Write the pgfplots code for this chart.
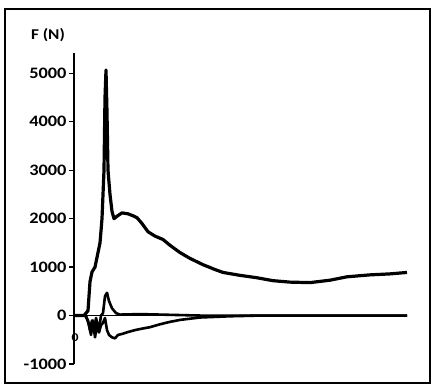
\documentclass[border=0pt]{standalone}
\usepackage{pgfplots}
\pgfplotsset{compat=1.18}
\usepackage{fontspec}
\setmainfont{Carlito}
\newfontfamily\widefont[FakeStretch=1.15]{Carlito}
\begin{document}
\begin{tikzpicture}[x=1bp,y=1bp]
\useasboundingbox (0,0) rectangle (432,385);
\fill[white] (0,0) rectangle (432,385);
\draw[line width=2.2bp] (5,2) rectangle (430,376);
\node[anchor=center,font=\widefont\fontsize{15}{17}\selectfont\bfseries] at (48,350) {F (N)};
\begin{axis}[
  at={(74bp,21bp)}, anchor=south west,
  scale only axis, width=333bp, height=311bp,
  xmin=0, xmax=333, ymin=-1000, ymax=5420,
  axis x line=none, axis y line=left,
  axis line style={-, line width=1.3bp},
  ytick={-1000,0,1000,2000,3000,4000,5000},
  tick style={line width=1.3bp, black},
  major tick length=5bp,
  tick align=outside,
  yticklabel style={font=\widefont\fontsize{16}{18}\selectfont\bfseries, xshift=1bp},
  /pgf/number format/assume math mode=true,
  /pgf/number format/set thousands separator={},
  clip=false,
]
\draw[line width=1.3bp] (axis cs:0,0) -- (axis cs:333,0);
\addplot[black, line width=3.2bp, line join=round] coordinates {
(0,0)(10,0)(14,100)(16,700)(18,900)(21,1000)(24,1300)(26,1500)(28,2000)(30,3000)(31,4500)(32,5070)(33,4200)(34,3000)(36,2500)(38,2150)(40,2000)(43,2050)(48,2120)(54,2100)(59,2060)(63,2020)(68,1900)(74,1730)(81,1640)(89,1570)(96,1450)(106,1300)(116,1180)(129,1050)(141,950)(149,890)(166,830)(183,780)(199,720)(216,690)(236,680)(256,730)(273,800)(296,840)(316,860)(333,890)
};
\addplot[black, line width=2.6bp, line join=round] coordinates {
(0,0)(11,0)(14,-100)(16,-300)(18,-100)(20,-350)(22,-50)(25,-300)(27,0)(29,50)(31,400)(33,470)(35,300)(38,150)(42,50)(46,20)(66,30)(86,20)(126,0)(333,0)
};
\addplot[black, line width=2.6bp, line join=round] coordinates {
(0,0)(12,0)(15,-200)(17,-400)(19,-100)(21,-450)(23,-200)(25,-350)(27,-200)(29,-150)(31,-50)(33,-300)(35,-400)(38,-450)(41,-470)(44,-400)(48,-380)(54,-340)(61,-300)(68,-270)(76,-240)(86,-180)(96,-130)(106,-90)(126,-40)(156,-15)(186,0)(333,0)
};
\end{axis}
\node[font=\widefont\fontsize{12}{14}\selectfont\bfseries] at (75,47) {0};
\end{tikzpicture}
\end{document}
